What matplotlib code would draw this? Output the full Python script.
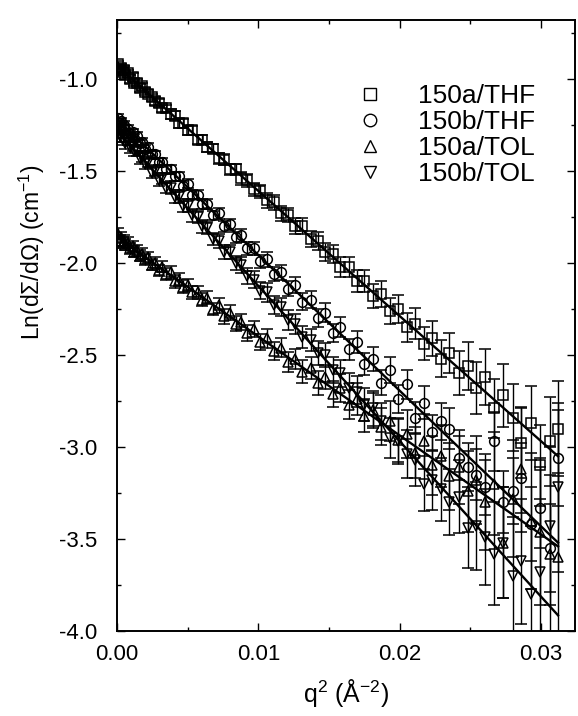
import numpy as np
import matplotlib
matplotlib.use('Agg')
import matplotlib.pyplot as plt
from matplotlib.lines import Line2D
from matplotlib.ticker import MultipleLocator

plt.rcParams['font.family'] = ['Liberation Sans', 'DejaVu Sans']
plt.rcParams['mathtext.fontset'] = 'custom'
plt.rcParams['mathtext.rm'] = 'Liberation Sans'

# q^2 (A^-2), shared by all four samples
q2 = [0.0001, 0.0002, 0.0003, 0.0004, 0.0005, 0.0006, 0.0008, 0.0009, 0.0011, 0.0012,
      0.0014, 0.0016, 0.0018, 0.0020, 0.0022, 0.0025, 0.0027, 0.0030, 0.0032, 0.0035,
      0.0038, 0.0041, 0.0044, 0.0047, 0.0050, 0.0053, 0.0057, 0.0060, 0.0064, 0.0068,
      0.0072, 0.0076, 0.0080, 0.0084, 0.0088, 0.0092, 0.0097, 0.0101, 0.0106, 0.0111,
      0.0116, 0.0121, 0.0126, 0.0131, 0.0137, 0.0142, 0.0147, 0.0153, 0.0158, 0.0164,
      0.0170, 0.0175, 0.0181, 0.0187, 0.0193, 0.0199, 0.0205, 0.0211, 0.0217, 0.0223,
      0.0229, 0.0235, 0.0242, 0.0248, 0.0254, 0.0260, 0.0267, 0.0273, 0.0280, 0.0286,
      0.0293, 0.0299, 0.0306, 0.0312]

# Ln(dSigma/dOmega) values
thf_a = [-0.92, -0.95, -0.94, -0.96, -0.95, -0.98, -0.97, -1.00, -0.99, -1.02,
         -1.02, -1.05, -1.04, -1.07, -1.08, -1.10, -1.12, -1.13, -1.16, -1.16,
         -1.19, -1.20, -1.24, -1.24, -1.28, -1.28, -1.33, -1.33, -1.37, -1.38,
         -1.43, -1.44, -1.49, -1.49, -1.54, -1.55, -1.60, -1.61, -1.66, -1.67,
         -1.73, -1.74, -1.80, -1.80, -1.87, -1.88, -1.94, -1.95, -2.02, -2.02,
         -2.10, -2.10, -2.18, -2.17, -2.26, -2.25, -2.35, -2.33, -2.44, -2.41,
         -2.52, -2.49, -2.60, -2.56, -2.68, -2.62, -2.79, -2.72, -2.84, -2.98,
         -2.87, -3.10, -2.97, -2.90]
thf_b = [-1.21, -1.24, -1.23, -1.26, -1.25, -1.27, -1.27, -1.30, -1.29, -1.32,
         -1.31, -1.35, -1.34, -1.38, -1.37, -1.41, -1.41, -1.45, -1.45, -1.49,
         -1.49, -1.53, -1.53, -1.58, -1.57, -1.63, -1.63, -1.68, -1.68, -1.74,
         -1.73, -1.80, -1.79, -1.86, -1.85, -1.92, -1.92, -1.99, -1.98, -2.06,
         -2.05, -2.14, -2.12, -2.21, -2.20, -2.30, -2.27, -2.38, -2.35, -2.47,
         -2.43, -2.55, -2.52, -2.65, -2.58, -2.74, -2.66, -2.84, -2.76, -2.92,
         -2.86, -2.90, -3.06, -3.11, -3.15, -3.22, -2.97, -3.30, -3.24, -3.17,
         -3.42, -3.33, -3.55, -3.06]
tol_a = [-1.84, -1.88, -1.86, -1.89, -1.88, -1.90, -1.89, -1.92, -1.91, -1.94,
         -1.93, -1.96, -1.95, -1.98, -1.97, -2.01, -2.00, -2.04, -2.02, -2.06,
         -2.05, -2.10, -2.09, -2.13, -2.12, -2.16, -2.16, -2.20, -2.19, -2.25,
         -2.23, -2.29, -2.27, -2.33, -2.32, -2.38, -2.36, -2.43, -2.41, -2.48,
         -2.46, -2.54, -2.52, -2.59, -2.57, -2.65, -2.62, -2.71, -2.68, -2.77,
         -2.74, -2.83, -2.80, -2.89, -2.86, -2.96, -2.93, -3.03, -2.97, -3.10,
         -3.05, -3.16, -3.11, -3.24, -3.18, -3.30, -3.20, -3.52, -3.28, -3.12,
         -3.40, -3.46, -3.58, -3.60]
tol_b = [-1.27, -1.31, -1.29, -1.33, -1.31, -1.35, -1.33, -1.37, -1.36, -1.39,
         -1.39, -1.43, -1.42, -1.46, -1.45, -1.51, -1.50, -1.55, -1.54, -1.59,
         -1.59, -1.64, -1.64, -1.69, -1.69, -1.74, -1.75, -1.80, -1.81, -1.87,
         -1.88, -1.94, -1.94, -2.00, -2.01, -2.07, -2.09, -2.15, -2.16, -2.23,
         -2.24, -2.31, -2.33, -2.40, -2.42, -2.49, -2.50, -2.58, -2.60, -2.68,
         -2.70, -2.77, -2.79, -2.86, -2.95, -2.97, -3.04, -3.07, -3.20, -3.18,
         -3.23, -3.30, -3.27, -3.44, -3.43, -3.49, -3.58, -3.52, -3.70, -3.62,
         -3.80, -3.68, -3.43, -3.22]

# error bar half-heights
err_thf = [0.02, 0.02, 0.02, 0.02, 0.02, 0.02, 0.02, 0.02, 0.02, 0.02,
           0.02, 0.02, 0.02, 0.02, 0.02, 0.02, 0.02, 0.02, 0.02, 0.02,
           0.025, 0.025, 0.025, 0.025, 0.025, 0.025, 0.025, 0.025, 0.025, 0.025,
           0.03, 0.03, 0.03, 0.03, 0.035, 0.035, 0.035, 0.035, 0.04, 0.04,
           0.04, 0.04, 0.045, 0.045, 0.045, 0.05, 0.05, 0.05, 0.055, 0.055,
           0.06, 0.06, 0.065, 0.07, 0.07, 0.075, 0.08, 0.085, 0.09, 0.095,
           0.10, 0.11, 0.12, 0.13, 0.14, 0.15, 0.16, 0.17, 0.18, 0.19,
           0.20, 0.22, 0.24, 0.26]
err_tol = [0.03, 0.03, 0.03, 0.03, 0.03, 0.03, 0.03, 0.03, 0.03, 0.03,
           0.03, 0.03, 0.03, 0.03, 0.03, 0.03, 0.03, 0.03, 0.03, 0.03,
           0.035, 0.035, 0.035, 0.035, 0.035, 0.035, 0.035, 0.035, 0.035, 0.035,
           0.04, 0.04, 0.04, 0.04, 0.045, 0.045, 0.045, 0.045, 0.05, 0.05,
           0.05, 0.055, 0.055, 0.06, 0.06, 0.065, 0.065, 0.07, 0.075, 0.08,
           0.085, 0.09, 0.095, 0.10, 0.11, 0.12, 0.13, 0.14, 0.15, 0.16,
           0.17, 0.18, 0.20, 0.22, 0.24, 0.26, 0.28, 0.30, 0.32, 0.34,
           0.37, 0.40, 0.43, 0.46]

labels = ['150a/THF', '150b/THF', '150a/TOL', '150b/TOL']
markers = ['s', 'o', '^', 'v']

fig = plt.figure(figsize=(5.78, 7.16), dpi=100)
ax = fig.add_axes([0.2024, 0.1187, 0.7924, 0.8533])

x = np.array(q2)
series = [(thf_a, err_thf), (thf_b, err_thf), (tol_a, err_tol), (tol_b, err_tol)]
for (y, e), m in zip(series, markers):
    y = np.array(y)
    e = np.array(e)
    ax.errorbar(x, y, yerr=e, fmt=m, ms=7, mfc='none', mec='black', mew=1.1,
                ecolor='black', elinewidth=1.0, capsize=4, capthick=1.0)
    # Guinier fit, weighted by the error bars
    b, a = np.polyfit(x, y, 1, w=1 / e)
    xf = np.array([0.0, x[-1]])
    ax.plot(xf, a + b * xf, color='black', lw=1.7)

ax.set_xlim(0, 0.0324)
ax.set_ylim(-4.0, -0.68)
ax.xaxis.set_major_locator(MultipleLocator(0.01))
ax.xaxis.set_minor_locator(MultipleLocator(0.005))
ax.yaxis.set_major_locator(MultipleLocator(0.5))
ax.yaxis.set_minor_locator(MultipleLocator(0.25))
ax.xaxis.set_major_formatter(plt.FormatStrFormatter('%.2f'))
ax.yaxis.set_major_formatter(plt.FormatStrFormatter('%.1f'))
ax.tick_params(which='both', direction='in', top=True, right=True,
               labelsize=16, width=1.0)
ax.tick_params(which='major', length=6)
ax.tick_params(which='minor', length=3)
ax.tick_params(axis='x', pad=9)
ax.tick_params(axis='y', pad=14)
for s in ax.spines.values():
    s.set_linewidth(1.4)

ax.set_xlabel('q$^2$ (Å$^{-2}$)', fontsize=18)
ax.set_ylabel('Ln(dΣ/dΩ) (cm$^{-1}$)', fontsize=16.5)
ax.xaxis.set_label_coords(0.5, -0.075)
ax.yaxis.set_label_coords(-0.153, 0.62)

handles = [Line2D([], [], ls='none', marker=m, ms=9, mfc='none', mec='black', mew=1.0)
           for m in markers]
fig.legend(handles, labels, loc='upper left', bbox_to_anchor=(0.617, 0.8827),
           frameon=False, fontsize=19, handlelength=1.0, handletextpad=1.32,
           labelspacing=0.08, borderpad=0, borderaxespad=0)

fig.savefig('out.png', dpi=100)
